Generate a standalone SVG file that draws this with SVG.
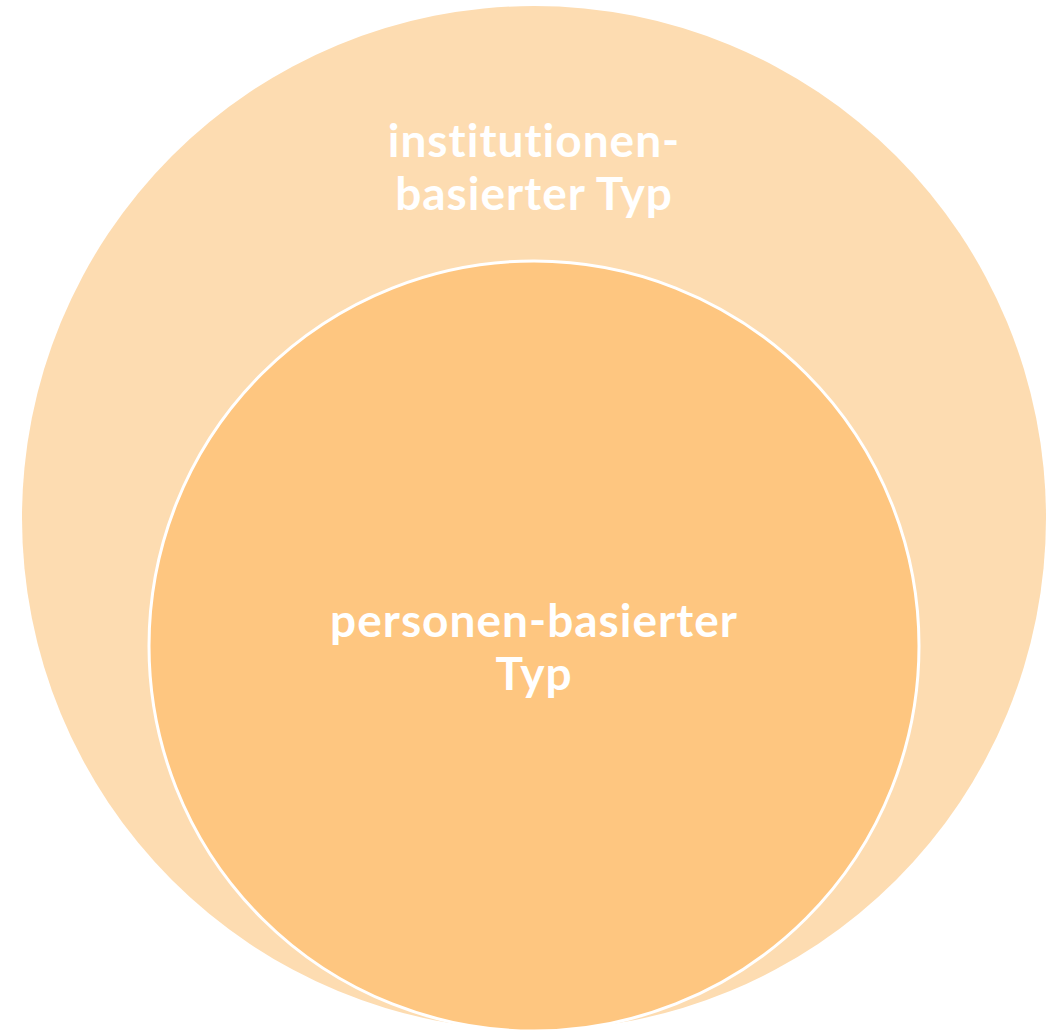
<svg xmlns="http://www.w3.org/2000/svg" width="1055" height="1030" viewBox="0 0 1055 1030">
<style>
.lbl{font-family:"Lato","Open Sans","Liberation Sans",sans-serif;font-weight:bold;font-size:46px;letter-spacing:1px;fill:#ffffff;text-anchor:middle}
</style>
<rect width="1055" height="1030" fill="#ffffff"/>
<g id="outer">
<circle cx="534" cy="518" r="512" fill="#FDDCB1"/>
<text class="lbl" x="534" y="157">institutionen-</text>
<text class="lbl" x="534" y="210">basierter Typ</text>
</g>
<g id="inner">
<circle cx="534" cy="646" r="385" fill="#FEC680" stroke="#ffffff" stroke-width="3"/>
<text class="lbl" x="534" y="637">personen-basierter</text>
<text class="lbl" x="534" y="690">Typ</text>
</g>
<g id="connectors"/>
</svg>
